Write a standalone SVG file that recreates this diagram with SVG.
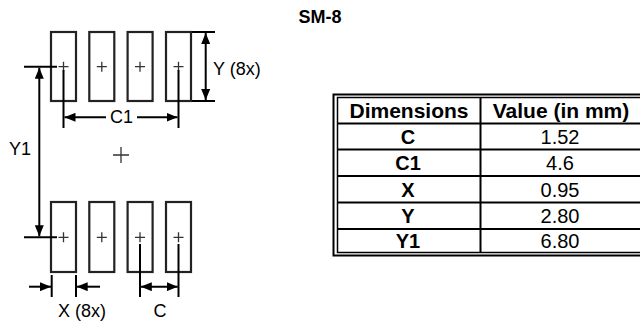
<svg xmlns="http://www.w3.org/2000/svg" width="640" height="324" viewBox="0 0 640 324">
<style>
.pad{fill:none;stroke:#222;stroke-width:2.2}
.plus{stroke:#333;stroke-width:1.3;fill:none}
.dim{stroke:#000;stroke-width:2;fill:none}
.arr{stroke:#000;stroke-width:2;fill:none;marker-end:url(#ah)}
.arr2{stroke:#000;stroke-width:2;fill:none;marker-start:url(#ah);marker-end:url(#ah)}
.lbl{font-family:"Liberation Sans",Arial,sans-serif;font-size:18px;fill:#000}
.th{font-family:"Liberation Sans",Arial,sans-serif;font-size:20px;font-weight:bold;fill:#000;text-anchor:middle}
.hd{font-family:"Liberation Sans",Arial,sans-serif;font-size:21px;font-weight:bold;fill:#000;text-anchor:middle}
.td{font-family:"Liberation Sans",Arial,sans-serif;font-size:20px;fill:#000;text-anchor:middle}
.tl{stroke:#000;stroke-width:2;fill:none}
</style>
<defs>
<marker id="ah" viewBox="0 0 11 9" refX="11" refY="4.5" markerWidth="11" markerHeight="9" markerUnits="userSpaceOnUse" orient="auto-start-reverse">
<path d="M0,0 L11,4.5 L0,9 z" fill="#000"/>
</marker>
</defs>
<rect width="640" height="324" fill="#fff"/>
<text x="320" y="23" text-anchor="middle" style="font-family:'Liberation Sans',Arial,sans-serif;font-size:18px;font-weight:bold">SM-8</text>

<g id="pads-top">
<g id="pad1"><rect class="pad" x="51" y="32" width="25" height="69"/><path class="plus" d="M58.5,66.7h10M63.5,61.7v10"/></g>
<g id="pad2"><rect class="pad" x="89.3" y="32" width="25" height="69"/><path class="plus" d="M96.8,66.7h10M101.8,61.7v10"/></g>
<g id="pad3"><rect class="pad" x="127.6" y="32" width="25" height="69"/><path class="plus" d="M135,66.7h10M140,61.7v10"/></g>
<g id="pad4"><rect class="pad" x="166" y="32" width="25" height="69"/><path class="plus" d="M173.5,66.7h10M178.5,61.7v10"/></g>
</g>
<g id="pads-bottom">
<g id="pad5"><rect class="pad" x="51" y="202" width="25" height="70"/><path class="plus" d="M58.5,237.3h10M63.5,232.3v10"/></g>
<g id="pad6"><rect class="pad" x="89.3" y="202" width="25" height="70"/><path class="plus" d="M96.8,237.3h10M101.8,232.3v10"/></g>
<g id="pad7"><rect class="pad" x="127.6" y="202" width="25" height="70"/><path class="plus" d="M135,237.3h10M140,232.3v10"/></g>
<g id="pad8"><rect class="pad" x="166" y="202" width="25" height="70"/><path class="plus" d="M173.5,237.3h10M178.5,232.3v10"/></g>
</g>
<g id="center"><path class="plus" d="M113,155h16M121,147v16"/></g>

<g id="connectors">
<path class="dim" d="M192,32H215M192,101H215"/>
<path class="arr2" d="M205.7,33V100"/>
<path class="dim" d="M63.5,70V128M178.5,70V128"/>
<path class="arr" d="M106,117.3H64.5"/>
<path class="arr" d="M137,117.3H177.5"/>
<path class="dim" d="M24,66.7H57M24,237.3H57"/>
<path class="arr2" d="M39.3,67.7V236.3"/>
<path class="dim" d="M51.7,275V297M76,275V297"/>
<path class="arr" d="M29,286.7H51"/>
<path class="arr" d="M100,286.7H76.7"/>
<path class="dim" d="M140,244V297M178.5,244V297"/>
<path class="arr2" d="M140.8,286.7H177.7"/>
</g>

<g id="labels">
<text class="lbl" x="213" y="75">Y (8x)</text>
<text class="lbl" x="121.5" y="123.3" text-anchor="middle">C1</text>
<text class="lbl" x="9" y="155">Y1</text>
<text class="lbl" x="58" y="316.7">X (8x)</text>
<text class="lbl" x="160" y="316.7" text-anchor="middle">C</text>
</g>

<g id="table">
<rect x="333.5" y="94.5" width="320" height="161" fill="none" stroke="#000" stroke-width="2"/>
<rect x="337.5" y="97.5" width="310" height="155" fill="none" stroke="#000" stroke-width="1.5"/>
<path class="tl" d="M337.5,123.5H640M337.5,149.5H640M337.5,176H640M337.5,202.5H640M337.5,229H640M480.5,97.5V252.5"/>
<text class="hd" x="409" y="118">Dimensions</text>
<text class="hd" x="561" y="118">Value (in mm)</text>
<text class="th" x="408" y="143.5">C</text>
<text class="td" x="560" y="143.5">1.52</text>
<text class="th" x="408" y="170">C1</text>
<text class="td" x="560" y="170">4.6</text>
<text class="th" x="408" y="196.5">X</text>
<text class="td" x="560" y="196.5">0.95</text>
<text class="th" x="408" y="223">Y</text>
<text class="td" x="560" y="223">2.80</text>
<text class="th" x="408" y="248">Y1</text>
<text class="td" x="560" y="248">6.80</text>
</g>
</svg>
